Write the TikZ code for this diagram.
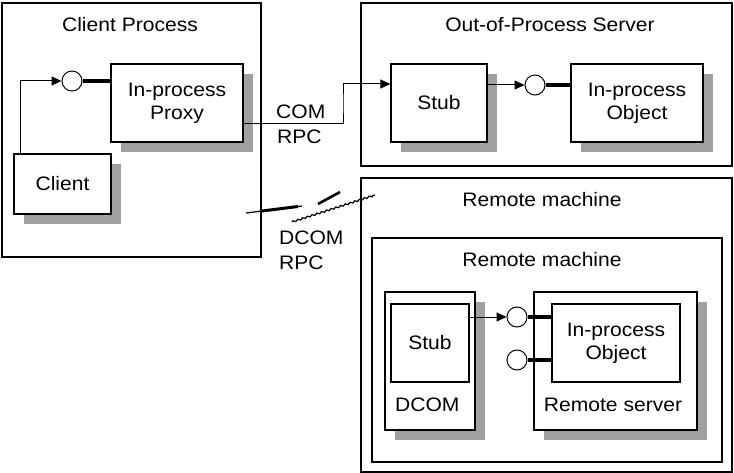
\documentclass[tikz,border=0pt]{standalone}
\usepackage{fontspec}
\setmainfont{Liberation Sans}[FakeStretch=1.08]
\usetikzlibrary{arrows.meta,shadows,decorations.pathmorphing}
\definecolor{shadowgray}{HTML}{A0A0A0}
\begin{document}
\begin{tikzpicture}[x=1pt,y=-1pt,
  every node/.style={font=\fontsize{19.5}{23}\selectfont},
  box/.style={draw,line width=1.3pt,fill=white,rectangle,inner sep=0pt,align=center},
  shbox/.style={box,drop shadow={shadow xshift=10pt,shadow yshift=-10pt,fill=shadowgray,opacity=1}},
  txt/.style={inner sep=0pt,align=center},
  lolli/.style={draw,circle,line width=1pt,fill=white,minimum size=20pt,inner sep=0pt},
  conn/.style={line width=1pt},
  arr/.style={conn,-{Triangle[length=10pt,width=9pt]}},
  stick/.style={line width=3.2pt},
  bolt/.style={line width=1.2pt}
]
\useasboundingbox (0,0) rectangle (734,473);

% containers
\node[box,minimum width=259pt,minimum height=254pt] (cp) at (131.5,130) {};
\node[box,minimum width=371pt,minimum height=163pt] (oos) at (546.5,84.5) {};
\node[box,minimum width=371pt,minimum height=294pt] (rmo) at (546.5,325) {};
\node[box,minimum width=350pt,minimum height=224pt] (rmi) at (547,350) {};

\node[txt] (cpt) at (130,25) {Client Process};
\node[txt] (oost) at (550,25) {Out-of-Process Server};
\node[txt] (rmot) at (542,200) {Remote machine};
\node[txt] (rmit) at (542,260) {Remote machine};

% client process
\node[shbox,minimum width=132pt,minimum height=78pt] (proxy) at (177,103) {In-process\\Proxy};
\node[shbox,minimum width=97pt,minimum height=60pt] (client) at (62.5,184) {Client};
\node[lolli] (c1) at (72,81) {};

% out-of-process server
\node[shbox,minimum width=96pt,minimum height=78pt] (stub1) at (439,103) {Stub};
\node[shbox,minimum width=132pt,minimum height=78pt] (obj1) at (637,103) {In-process\\Object};
\node[lolli] (c2) at (535,85) {};

% remote machine
\node[shbox,minimum width=90pt,minimum height=138pt] (dcom) at (430,361) {};
\node[box,minimum width=78pt,minimum height=78pt] (stub2) at (430,343) {Stub};
\node[txt,anchor=west] (dcomt) at (395,405) {DCOM};
\node[shbox,minimum width=163pt,minimum height=138pt] (rs) at (615.5,361) {};
\node[box,minimum width=128pt,minimum height=78pt] (obj2) at (616,343) {In-process\\Object};
\node[txt] (rst) at (613,405) {Remote server};
\node[lolli] (c3) at (517,317) {};
\node[lolli] (c4) at (517,360) {};

% connectors
\draw[arr] ([xshift=7pt]client.north west) |- (c1.west);
\draw[stick] (c1.east) -- (c1 -| proxy.west);
\coordinate (bend) at (343,104);
\draw[arr] ([yshift=-21pt]proxy.east) -| (bend) |- ([yshift=19pt]stub1.west);
\draw[arr] (stub1.east |- c2) -- (c2.west);
\draw[stick] (c2.east) -- (c2 -| obj1.west);
\draw[arr] (stub2.east |- c3) -- (c3.west);
\draw[stick] (c3.east) -- (c3 -| obj2.west);
\draw[stick] (c4.east) -- (c4 -| obj2.west);

% labels
\node[txt,anchor=west] (com) at (276,112) {COM};
\node[txt,anchor=west] (rpc1) at (277,137) {RPC};
\node[txt,anchor=west] (dcoml) at (279,238) {DCOM};
\node[txt,anchor=west] (rpc2) at (279,263) {RPC};

% broken DCOM link
\draw[bolt] (246,213) -- (302,206);
\draw[line width=3pt] (262,211) -- (298,206.5);
\draw[line width=2.6pt] (318,204) -- (340,192);
\draw[bolt,decorate,decoration={zigzag,segment length=5pt,amplitude=0.8pt}] (292,222) -- (375,195);
\end{tikzpicture}
\end{document}
